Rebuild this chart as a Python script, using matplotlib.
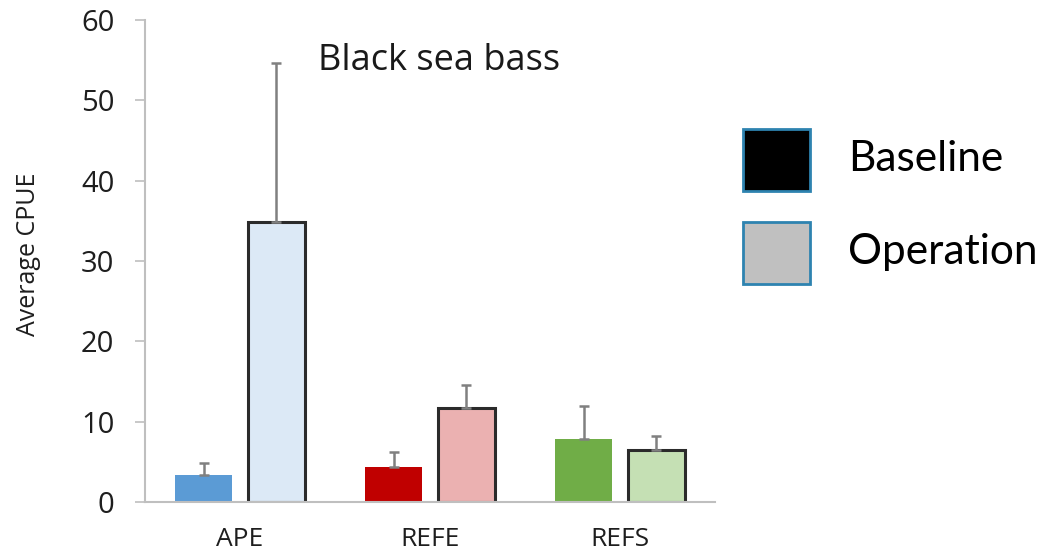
import matplotlib
matplotlib.use("Agg")
import matplotlib.pyplot as plt
from matplotlib.patches import Rectangle

sites = ["APE", "REFE", "REFS"]
baseline = [3.4, 4.3, 7.9]
baseline_err = [1.4, 1.9, 4.1]
operation = [34.8, 11.7, 6.5]
operation_err = [19.8, 2.9, 1.7]
base_colors = ["#5b9bd5", "#c00000", "#70ad47"]
op_colors = ["#dce9f6", "#ebb1b1", "#c5e0b4"]
yticks = [0, 10, 20, 30, 40, 50, 60]
legend_labels = ["Baseline", "Operation"]
legend_colors = ["#000000", "#c0c0c0"]

fig = plt.figure(figsize=(10.55, 5.58), dpi=100)
ax = fig.add_axes([145/1055, 1-502/558, 570/1055, 482/558])

x = list(range(len(sites)))
off = 0.192
w = 0.305
err_kw = dict(ecolor="#808080", elinewidth=1.8, capsize=3.5, capthick=1.8)
ax.bar([i - off for i in x], baseline, width=w, color=base_colors,
       yerr=[[0]*3, baseline_err], error_kw=err_kw, linewidth=0, zorder=2)
ax.bar([i + off for i in x], operation, width=w, color=op_colors,
       edgecolor="#2b2b2b", linewidth=2.2,
       yerr=[[0]*3, operation_err], error_kw=err_kw, zorder=2)

ax.set_xlim(-0.5, 2.5)
ax.set_ylim(0, 60)
ax.set_yticks(yticks)
ax.set_xticks(x)
ax.set_xticklabels(sites, fontfamily="Open Sans", fontsize=19, color="#1e1e1e")
ax.tick_params(axis="x", length=0, pad=18)
ax.tick_params(axis="y", length=7, width=1.2, color="#bfbfbf", pad=15,
               labelsize=21, labelcolor="#1e1e1e")
for lab in ax.get_yticklabels():
    lab.set_fontfamily("Open Sans")
for s in ["top", "right"]:
    ax.spines[s].set_visible(False)
for s in ["left", "bottom"]:
    ax.spines[s].set_color("#bfbfbf")
    ax.spines[s].set_linewidth(1.5)
ax.set_ylabel("Average CPUE", fontfamily="Open Sans", fontsize=18,
              color="#1e1e1e")
ax.yaxis.set_label_coords((41-145)/570, 0.515)

ax.text(1.047, 53.8, "Black sea bass", fontfamily="Open Sans", fontsize=26,
        color="#1a1a1a", ha="center", va="baseline", transform=ax.transData)

# legend
for k, (lab, col) in enumerate(zip(legend_labels, legend_colors)):
    top = [128, 221][k]
    fig.add_artist(Rectangle((743/1055, 1-(top+63)/558), 67/1055, 62/558,
                             transform=fig.transFigure, facecolor=col,
                             edgecolor="#2e83b0", linewidth=2))
    fig.text(848/1055, 1-(top+31)/558, lab, fontfamily="Lato", fontsize=30.5,
             va="center", ha="left", color="#000000")

fig.savefig("out.png", dpi=100)
